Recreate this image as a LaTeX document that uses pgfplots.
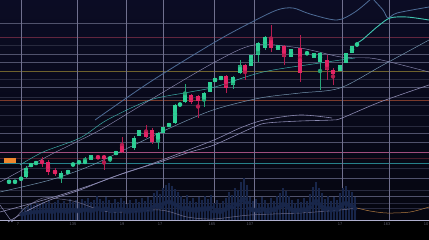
\documentclass[border=0pt]{standalone}
\usepackage{pgfplots}
\pgfplotsset{compat=1.18}
\usepackage{pgfplotstable}
\usepackage{fontspec}
\setmainfont{Liberation Sans}

\definecolor{bgtop}{RGB}{11,12,36}
\definecolor{bgbot}{RGB}{5,6,16}
\definecolor{cgreen}{RGB}{46,208,150}
\definecolor{cred}{RGB}{226,36,100}
\definecolor{gridv}{RGB}{112,112,142}
\definecolor{hgray}{RGB}{80,82,108}
\definecolor{hdim}{RGB}{40,42,62}
\definecolor{hmaroon}{RGB}{98,38,62}
\definecolor{holive}{RGB}{110,98,45}
\definecolor{horange}{RGB}{122,58,44}
\definecolor{hpink}{RGB}{160,78,125}
\definecolor{hdred}{RGB}{72,28,42}
\definecolor{hcyan}{RGB}{38,128,138}
\definecolor{axisl}{RGB}{175,175,205}
\definecolor{steel}{RGB}{78,108,150}
\definecolor{lav}{RGB}{140,138,178}
\definecolor{teal}{RGB}{60,170,165}
\definecolor{tealb}{RGB}{64,196,176}
\definecolor{volc}{RGB}{24,38,74}
\definecolor{orline}{RGB}{176,122,64}
\definecolor{boxor}{RGB}{240,135,45}
\definecolor{ticklab}{RGB}{95,95,110}

\pgfplotstableread{
x t b wt wb
9 181 182.6 181 182.6
15 181 182.6 181 182.6
21 178 179.5 178 179.5
26 168 177 166 178
31 163 167 163 167
36 162 164 162 164
61 173 178 171 183
68 170 174 170 174
73 163 166 163 166
79 161.5 163 161.5 163
85 161 163 157 163
91 155 160 155 160
110 157 159.5 157 162
116 151 155 151 155
134 138 148 136 150
139 130 136 130 136
158 133 142 132 149
163 127 133 127 133
169 123 127 123 127
175 105 123 104 124
180 103 106 103 106
185 93 102 84 103
204 93 101 92 107
210 82 92 82 92
215 78 82 78 82
221 76 80 76 80
233 77 85 76 89
240 65 73 60 74
251 55 66 55 66
258 43 55 42 62
265 37 48 36 50
278 45 50 45 50
291 49 57 49 57
307 52.5 54 52.5 54
314 53 58 53 58
320 53 62 52 90
340 65 71 65 71
346 53 63 53 63
352 46 53 46 53
357 43 46 43 46
}\greencandles

\pgfplotstableread{
x t b wt wb
42 161 163 157 167
48 162 172 160 175
55 170 174 168 176
98 156 158.5 156 158.5
104 156 158.5 155 170
122 144 152 137 153
146 131 137 125 138
152 130 142 128 144
191 95 102 94 104
198 96 101 95 118
226 76 88 75 93
245 65 72 64 80
271 37 48 25 52
284 46 57 45 65
300 48 73 35 82
327 60 70 55 80
333 70 74 68 85
}\redcandles

\pgfplotstableread{
x top
22 209
25 207
28 206
31 204
34 205
37 203
40 204
43 202
46 203
49 201
52 204
55 202
58 200
61 203
64 201
67 204
70 199
73 202
76 200
79 203
82 199
85 201
88 198
91 202
94 200
97 196
100 199
103 201
106 197
109 200
112 203
115 199
118 202
121 198
124 201
127 204
130 200
133 203
136 199
139 202
142 198
145 201
148 197
151 200
154 193
157 190
160 194
163 188
166 185
169 183
172 186
175 189
178 192
181 196
184 199
187 195
190 201
193 198
196 202
199 197
202 200
205 196
208 199
211 195
214 203
217 200
220 204
223 201
226 198
229 192
232 195
235 188
238 190
241 182
244 178
247 185
250 197
253 201
256 199
259 203
262 197
265 200
268 204
271 198
274 201
277 196
280 193
283 188
286 191
289 196
292 200
295 203
298 199
301 202
304 198
307 201
310 194
313 187
316 182
319 188
322 193
325 199
328 196
331 201
334 197
337 200
340 193
343 188
346 186
349 190
352 192
355 197
}\volume

\newcommand{\hl}[2]{\addplot[#2, line width=0.4bp, forget plot] coordinates {(0,#1) (429,#1)};}
\newcommand{\vl}[1]{\addplot[gridv, line width=0.55bp, forget plot] coordinates {(#1,0) (#1,220)};}

\begin{document}
\begin{tikzpicture}
\begin{axis}[
  scale only axis, width=429bp, height=240bp,
  xmin=0, xmax=429, ymin=0, ymax=240, y dir=reverse,
  hide axis, clip=true,
]
% background
\fill[black] (axis cs:0,0) rectangle (axis cs:429,240);
\fill[top color=bgtop, bottom color=bgbot] (axis cs:0,0) rectangle (axis cs:429,220);

% horizontal lines
\hl{23}{hgray}
\hl{37}{hmaroon}
\hl{45}{hdim}
\hl{54}{hgray}
\hl{62}{hgray}
\hl{71}{holive}
\hl{79}{hdim}
\hl{87}{hgray}
\hl{97}{hdim}
\hl{100}{horange}
\hl{105}{hdim}
\hl{115}{hdim}
\hl{126}{hdim}
\hl{133}{hgray}
\hl{142}{hgray}
\hl{152}{hpink}
\hl{158}{hdred}
\hl{163}{hcyan}
\hl{168}{hdim}
\hl{178}{hgray}
\hl{190}{hdim}
\hl{196}{hgray}
\hl{203}{hdim}
\hl{208}{hdim}

% vertical grid
\vl{21}\vl{77}\vl{126}\vl{163}\vl{214}\vl{254}\vl{342}\vl{389}

% volume
\addplot[volc, only marks, mark=none, forget plot,
  error bars/.cd, y dir=both, y explicit, error mark=none,
  error bar style={line width=1.4bp, volc}]
  table[x=x, y expr={(220+\thisrow{top})/2}, y error expr={(220-\thisrow{top})/2}] {\volume};

% volume-region indicator lines
\addplot[lav!75!black, line width=0.5bp, smooth] coordinates {(12,222) (25,208) (43,198) (60,199) (77,202) (110,212) (160,210) (187,217) (213,219) (250,215) (300,213) (340,210) (357,208)};
\addplot[orline, line width=0.5bp, smooth] coordinates {(357,208) (370,211) (387,213) (410,212) (429,207)};

% axis line
\addplot[axisl, line width=0.8bp] coordinates {(0,220) (429,220)};

% band / moving average lines
\addplot[lav, line width=0.5bp, smooth] coordinates {(0,205) (12,222)};
\addplot[lav, line width=0.6bp, smooth] coordinates {(0,212) (33,203) (67,193) (100,182) (127,172) (160,162) (190,152) (214,145) (254,127) (267,123) (300,121) (332,120) (342,118) (380,102) (429,85)};
\addplot[lav, line width=0.6bp, smooth] coordinates {(8,222) (25,212) (50,200) (80,190) (110,178) (140,168) (170,157) (214,140) (240,128) (264,120) (300,115) (332,118)};
\addplot[lav!70!teal, line width=0.5bp, smooth] coordinates {(0,192) (50,180) (90,166) (130,147) (170,128) (213,110) (260,98) (300,93) (340,88) (383,65) (429,40)};
\addplot[teal, line width=0.5bp, smooth] coordinates {(20,165) (43,152) (80,138) (107,120) (150,100) (190,92) (215,87) (263,72) (320,63) (355,58)};
\addplot[lav, line width=0.45bp, smooth] coordinates {(0,182) (50,155) (100,130) (150,100) (215,62) (254,45) (300,48) (341,57) (370,58) (390,62) (429,72)};
\addplot[steel, line width=0.8bp, smooth] coordinates {(95,120) (150,82) (215,42) (250,23) (277,10) (293,8) (310,14) (337,20) (355,12) (372,-2)};
\addplot[steel, line width=0.8bp, smooth] coordinates {(372,-2) (383,10) (388,18) (397,13) (429,7)};
\addplot[tealb, line width=0.9bp, smooth] coordinates {(355,44) (362,40) (377,27) (390,18) (407,17) (429,20)};

% candles: wicks
\addplot[cgreen!80!black, only marks, mark=none,
  error bars/.cd, y dir=both, y explicit, error mark=none,
  error bar style={line width=0.5bp, cgreen!80!black}]
  table[x=x, y expr={(\thisrow{wt}+\thisrow{wb})/2}, y error expr={(\thisrow{wb}-\thisrow{wt})/2}] {\greencandles};
\addplot[cred!80!black, only marks, mark=none,
  error bars/.cd, y dir=both, y explicit, error mark=none,
  error bar style={line width=0.5bp, cred!80!black}]
  table[x=x, y expr={(\thisrow{wt}+\thisrow{wb})/2}, y error expr={(\thisrow{wb}-\thisrow{wt})/2}] {\redcandles};
% candles: bodies
\addplot[cgreen, only marks, mark=none,
  error bars/.cd, y dir=both, y explicit, error mark=none,
  error bar style={line width=4.4bp, cgreen}]
  table[x=x, y expr={(\thisrow{t}+\thisrow{b})/2}, y error expr={(\thisrow{b}-\thisrow{t})/2}] {\greencandles};
\addplot[cred, only marks, mark=none,
  error bars/.cd, y dir=both, y explicit, error mark=none,
  error bar style={line width=4.4bp, cred}]
  table[x=x, y expr={(\thisrow{t}+\thisrow{b})/2}, y error expr={(\thisrow{b}-\thisrow{t})/2}] {\redcandles};

% price marker
\fill[boxor] (axis cs:4,158) rectangle (axis cs:16,162.5);

% tick labels
\begin{scope}[every node/.style={font=\fontsize{4}{4}\selectfont, text=ticklab, inner sep=0pt}]
\node at (axis cs:18,224.5) {7};
\node at (axis cs:73,224.5) {135};
\node at (axis cs:122,224.5) {19};
\node at (axis cs:160,224.5) {17};
\node at (axis cs:212,224.5) {165};
\node at (axis cs:250,224.5) {107};
\node at (axis cs:340,224.5) {17};
\node at (axis cs:387,224.5) {163};
\node at (axis cs:426,224.5) {10};
\end{scope}
\end{axis}
\end{tikzpicture}
\end{document}
